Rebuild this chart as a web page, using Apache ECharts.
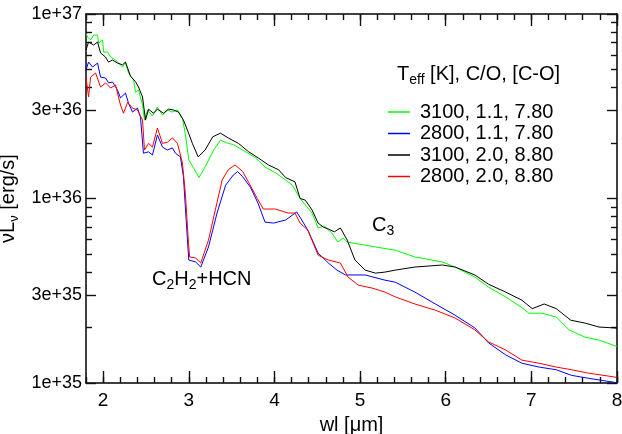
<!DOCTYPE html>
<html><head><meta charset="utf-8">
<script src="https://cdn.jsdelivr.net/npm/echarts@6/dist/echarts.min.js"></script>
<style>html,body{margin:0;padding:0;background:#fff}#c{width:622px;height:434px}</style>
</head><body><div id="c"></div>
<script>
// wavelength [µm] and νLν in units of 1e35 erg/s
const wlGreen = [1.80,1.82,1.854,1.889,1.935,1.947,1.993,2.005,2.051,2.087,2.145,2.18,2.227,2.261,2.296,2.355,2.378,2.413,2.46,2.483,2.518,2.576,2.634,2.693,2.751,2.809,2.868,2.926,2.961,3.00,3.05,3.12,3.19,3.29,3.37,3.46,3.52,3.63,3.78,3.89,4.01,4.13,4.21,4.30,4.38,4.44,4.51,4.58,4.67,4.74,4.80,4.85,4.91,5.06,5.18,5.41,5.64,5.96,6.11,6.34,6.50,6.70,6.89,6.97,7.12,7.29,7.44,7.63,7.79,7.96,8.00];
const lumGreen = [78,75,72.3,76.9,76.9,69.6,72.3,62.2,62.2,58.4,56.3,54.2,51.6,54.9,47.9,43.9,37.7,38.7,32.1,26.6,30.2,28.0,31.3,28.3,30.2,29.4,30.2,27.3,22.1,16.2,14.8,13.0,14.8,18.3,20.7,19.9,19.6,18.3,16.6,14.8,13.8,12.6,11.8,10.0,9.0,8.34,6.92,7.1,6.5,5.81,6.1,5.81,5.74,5.59,5.46,5.25,4.82,4.53,4.25,3.75,3.31,2.93,2.56,2.39,2.39,2.28,1.94,1.77,1.71,1.60,1.58];

const wlBlue = [1.80,1.83,1.877,1.935,1.97,2.028,2.063,2.11,2.168,2.203,2.261,2.296,2.343,2.401,2.436,2.471,2.53,2.576,2.634,2.693,2.751,2.809,2.844,2.903,2.938,2.975,3.00,3.08,3.14,3.23,3.33,3.43,3.52,3.57,3.63,3.72,3.81,3.89,3.99,4.13,4.26,4.32,4.39,4.51,4.63,4.73,4.83,5.06,5.29,5.41,5.64,5.88,6.11,6.34,6.50,6.70,6.89,7.09,7.29,7.47,7.67,7.96,8.00];
const lumBlue = [49.7,54.9,51.6,54.2,45.5,45.0,42.3,42.8,38.7,35.1,37.3,32.9,29.4,30.9,27.6,17.6,17.9,17.2,22.1,19.0,18.3,18.8,17.6,16.8,13.1,7.0,4.64,4.53,4.25,5.46,8.34,11.8,13.4,14.0,13.1,11.5,9.4,7.45,7.36,7.64,8.45,7.64,6.74,5.06,4.47,4.09,3.85,3.85,3.61,3.52,3.11,2.68,2.33,1.99,1.65,1.42,1.28,1.22,1.18,1.10,1.06,1.01,1.0];

const wlBlack = [1.80,1.83,1.889,1.935,1.97,2.028,2.063,2.11,2.168,2.227,2.261,2.32,2.378,2.413,2.46,2.495,2.53,2.588,2.634,2.704,2.763,2.821,2.879,2.938,2.984,3.042,3.11,3.19,3.28,3.37,3.46,3.58,3.70,3.81,3.93,4.05,4.13,4.24,4.30,4.36,4.44,4.51,4.57,4.63,4.70,4.77,4.85,4.94,5.06,5.18,5.29,5.41,5.64,5.96,6.11,6.34,6.50,6.70,6.89,7.01,7.15,7.29,7.46,7.63,7.79,7.96,8.00];
const lumBlack = [63.8,70.5,67.9,70.5,61.5,58.4,54.9,56.3,54.2,53.0,54.9,46.0,43.0,40.2,35.5,26.6,30.5,29.0,30.5,29.0,30.5,30.2,29.4,26.6,23.5,19.9,16.8,18.3,21.6,22.6,21.3,19.9,17.9,16.6,15.2,14.3,13.0,12.3,10.0,9.8,8.66,7.36,7.0,6.83,6.6,6.92,5.95,4.64,4.09,3.94,3.99,4.09,4.25,4.36,4.25,3.85,3.43,3.11,2.81,2.53,2.68,2.53,2.19,2.11,2.01,1.99,1.98];

const wlRed = [1.80,1.83,1.854,1.912,1.97,2.028,2.087,2.145,2.203,2.238,2.285,2.343,2.401,2.46,2.483,2.53,2.576,2.634,2.693,2.751,2.809,2.868,2.926,2.961,2.996,3.01,3.08,3.14,3.23,3.31,3.39,3.46,3.54,3.63,3.70,3.80,3.87,4.01,4.16,4.24,4.30,4.39,4.51,4.63,4.77,4.86,4.98,5.14,5.29,5.41,5.64,5.88,6.11,6.34,6.50,6.70,6.89,7.09,7.29,7.47,7.67,7.96,8.00];
const lumRed = [45.5,35.5,45.5,47.9,40.2,42.3,39.7,41.2,32.1,29.0,33.2,30.9,30.2,26.6,18.3,19.9,19.0,24.1,19.9,20.2,21.3,19.9,15.6,10.5,5.8,4.82,4.76,4.47,5.95,8.66,12.6,14.3,15.2,14.0,12.2,10.0,8.77,8.77,8.34,8.34,7.36,6.74,4.93,4.64,4.47,3.75,3.39,3.27,3.11,2.93,2.68,2.48,2.25,1.94,1.67,1.51,1.33,1.28,1.22,1.18,1.13,1.08,1.07];

const seriesNames = ['3100, 1.1, 7.80','2800, 1.1, 7.80','3100, 2.0, 8.80','2800, 2.0, 8.80'];
const seriesColors = ['#00ff00','#0000ff','#000000','#ff0000'];
const xMajorTicks = [2,3,4,5,6,7,8];
const yMajorTicks = [1e35,3e35,1e36,3e36,1e37];
const yMinorTicks = [2e35,4e35,5e35,6e35,7e35,8e35,9e35,2e36,4e36,5e36,6e36,7e36,8e36,9e36];
const UNIT = 1e35;

const F = '"Liberation Sans", Arial, Helvetica, sans-serif';
const lg = v => Math.log10(v);
function pairs(wl, lum){ return wl.map((w,i)=>[w, lg(lum[i]*UNIT)]); }
function fmtY(v){
  const e = Math.floor(v + 1e-9);
  return Math.round(Math.pow(10, v - e)) + 'e+' + e;
}

const chart = echarts.init(document.getElementById('c'));
function axLine(){ return {show:true, lineStyle:{color:'#000', width:1.5}}; }
function ticks(len, custom){
  const t = {show:true, inside:true, length:len, lineStyle:{color:'#111', width:1.4}};
  if (custom) t.customValues = custom;
  return t;
}
function xAx(extra){ return Object.assign({type:'value', min:1.8, max:8, splitLine:{show:false}, axisLine:{show:false}, axisTick:{show:false}, axisLabel:{show:false}}, extra); }
function yAx(extra){ return Object.assign({type:'value', min:35, max:37, splitLine:{show:false}, axisLine:{show:false}, axisTick:{show:false}, axisLabel:{show:false}}, extra); }

const option = {
  backgroundColor:'#fff',
  animation:false,
  grid:{left:86, right:5, top:14, bottom:51, containLabel:false, outerBoundsMode:'none'},
  xAxis:[
    xAx({position:'bottom', axisLine:axLine(),
      axisLabel:{show:true, customValues:xMajorTicks, fontSize:19, color:'#000', fontFamily:F, margin:8},
      name:'wl [\u03bcm]', nameLocation:'middle', nameGap:32,
      nameTextStyle:{fontSize:20, color:'#000', fontFamily:F}}),
    xAx({position:'bottom', axisTick:ticks(12, xMajorTicks)}),
    xAx({position:'bottom', interval:0.2, axisTick:ticks(6)}),
    xAx({position:'top', axisLine:axLine(), axisTick:ticks(12, xMajorTicks)}),
    xAx({position:'top', interval:0.2, axisTick:ticks(6)})
  ],
  yAxis:[
    yAx({position:'left', axisLine:axLine(),
      axisLabel:{show:true, customValues:yMajorTicks.map(lg), formatter:fmtY, fontSize:18, color:'#000', fontFamily:F, margin:4},
      name:'{a|\u03bdL}{s|\u03bd}{a| [erg/s]}', nameLocation:'middle', nameGap:55, nameRotate:90,
      nameTextStyle:{color:'#000', rich:{a:{fontSize:20, fontFamily:F, color:'#000'}, s:{fontSize:13, fontFamily:F, color:'#000', padding:[12,0,0,0]}}}}),
    yAx({position:'left', axisTick:ticks(10, yMajorTicks.map(lg))}),
    yAx({position:'left', axisTick:ticks(6, yMinorTicks.map(lg))}),
    yAx({position:'right', axisLine:axLine(), axisTick:ticks(10, yMajorTicks.map(lg))}),
    yAx({position:'right', axisTick:ticks(6, yMinorTicks.map(lg))})
  ],
  legend:{
    orient:'vertical', left:383, top:97, itemWidth:22, itemHeight:1.5, itemGap:1.5, icon:'rect',
    data:seriesNames,
    textStyle:{fontSize:20, fontFamily:F, color:'#000', lineHeight:20, padding:[0,0,0,5]}
  },
  graphic:[
    {type:'text', left:397, top:64, style:{text:'{a|T}{s|eff}{a| [K], C/O, [C-O]}', fill:'#000',
      rich:{a:{fontSize:20, fontFamily:F, fill:'#000'}, s:{fontSize:14, fontFamily:F, fill:'#000', padding:[12,0,0,0]}}}},
    {type:'text', left:152, top:269, style:{text:'{a|C}{s|2}{a|H}{s|2}{a|+HCN}', fill:'#000',
      rich:{a:{fontSize:20, fontFamily:F, fill:'#000'}, s:{fontSize:14, fontFamily:F, fill:'#000', padding:[12,0,0,0]}}}},
    {type:'text', left:372, top:215, style:{text:'{a|C}{s|3}', fill:'#000',
      rich:{a:{fontSize:20, fontFamily:F, fill:'#000'}, s:{fontSize:14, fontFamily:F, fill:'#000', padding:[12,0,0,0]}}}}
  ],
  series:[
    {name:seriesNames[0], type:'line', data:pairs(wlGreen,lumGreen)},
    {name:seriesNames[1], type:'line', data:pairs(wlBlue,lumBlue)},
    {name:seriesNames[2], type:'line', data:pairs(wlBlack,lumBlack)},
    {name:seriesNames[3], type:'line', data:pairs(wlRed,lumRed)}
  ].map((s,i)=>Object.assign(s,{xAxisIndex:0, yAxisIndex:0, showSymbol:false, symbol:'none',
    color:seriesColors[i], lineStyle:{width:1, color:seriesColors[i]}, itemStyle:{color:seriesColors[i]}}))
};
chart.setOption(option);
</script>
</body></html>
